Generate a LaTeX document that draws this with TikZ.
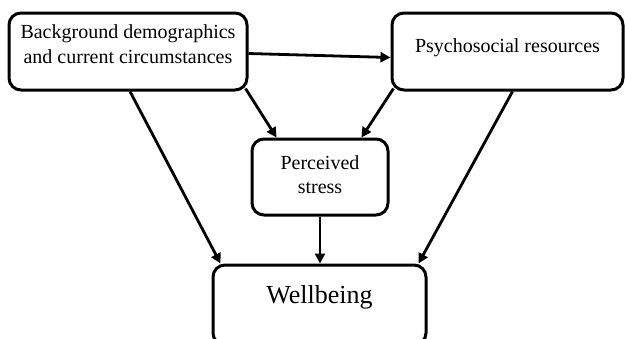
\documentclass[tikz,border=0pt]{standalone}
\usepackage{fontspec}
\setmainfont{Liberation Serif}
\usetikzlibrary{arrows.meta,positioning,calc}

\begin{document}
\begin{tikzpicture}[x=1pt, y=-1pt,
    box/.style={draw, line width=3pt, rounded corners=12pt, inner sep=0pt, align=center},
    arr/.style={-{Triangle[length=10pt,width=10pt]}, line width=2.8pt}]
    \useasboundingbox (0,0) rectangle (625,338);
    % Boxes
    \node[box, minimum width=238pt, text height=50pt, text depth=27pt, font=\fontsize{20}{25}\selectfont] (bg) at (128,51.5) {Background demographics\\and current circumstances};
    \node[box, minimum width=231pt, text height=39pt, text depth=38pt, font=\fontsize{20}{25}\selectfont] (psych) at (507.5,51.5) {Psychosocial resources};
    \node[box, minimum width=136pt, text height=54pt, text depth=22pt, font=\fontsize{20}{24}\selectfont] (stress) at (320,177) {Perceived\\stress};
    \node[box, minimum width=213pt, text height=38pt, text depth=42pt, font=\fontsize{26}{30}\selectfont] (wb) at (319.5,305) {Wellbeing};

    % Arrows
    \draw[arr] ([yshift=-2pt]bg.east) -- ([yshift=-6pt]psych.west);
    \draw[arr] ([shift={(-3pt,3pt)}]bg.south east) -- ([xshift=26pt]stress.north west);
    \draw[arr] ([xshift=2pt]bg.south) -- ([xshift=9pt]wb.north west);
    \draw[arr] ([shift={(3pt,3pt)}]psych.south west) -- ([xshift=-28pt]stress.north east);
    \draw[arr] ([xshift=5pt]psych.south) -- ([xshift=-9pt]wb.north east);
    \draw[arr] (stress.south) -- (stress.south |- wb.north);
\end{tikzpicture}
\end{document}
